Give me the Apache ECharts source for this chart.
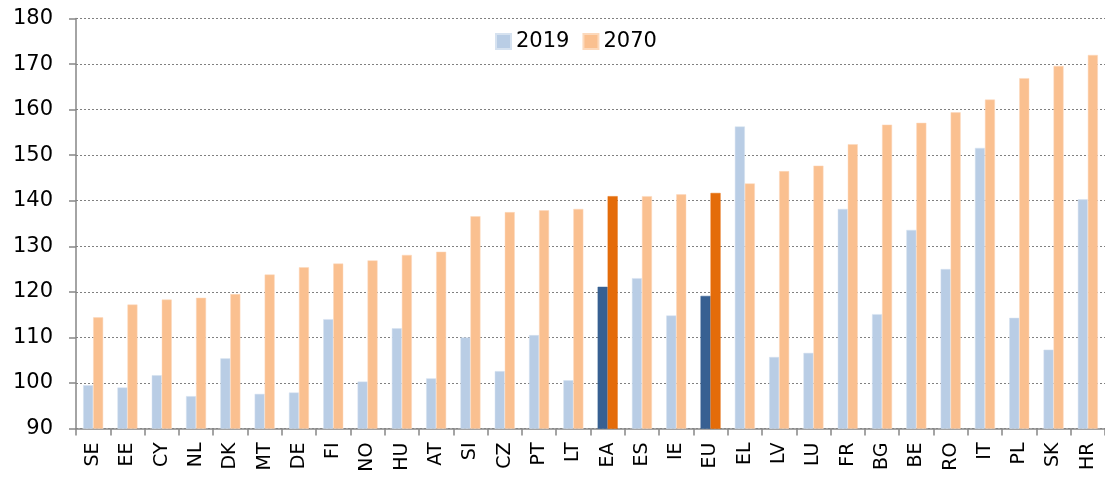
<!DOCTYPE html>
<html>
<head>
<meta charset="utf-8">
<script src="https://cdn.jsdelivr.net/npm/echarts@6/dist/echarts.min.js"></script>
<style>
  html, body { margin: 0; padding: 0; background: #fff; }
  #chart { width: 1105px; height: 479px; }
</style>
</head>
<body>
<div id="chart"></div>
<script>
const categories = ['SE', 'EE', 'CY', 'NL', 'DK', 'MT', 'DE', 'FI', 'NO', 'HU', 'AT', 'SI', 'CZ', 'PT', 'LT',
  'EA', 'ES', 'IE', 'EU', 'EL', 'LV', 'LU', 'FR', 'BG', 'BE', 'RO', 'IT', 'PL', 'SK', 'HR'];
const values2019 = [99.5, 99.0, 101.7, 97.1, 105.4, 97.6, 97.9, 114.0, 100.3, 112.0, 101.0, 110.0, 102.6, 110.5, 100.6,
  121.1, 123.0, 114.8, 119.1, 156.3, 105.7, 106.6, 138.2, 115.1, 133.6, 125.0, 151.6, 114.3, 107.3, 140.3];
const values2070 = [114.4, 117.2, 118.3, 118.7, 119.5, 123.8, 125.4, 126.2, 126.9, 128.1, 128.8, 136.6, 137.5, 137.9, 138.2,
  141.0, 141.0, 141.4, 141.7, 143.8, 146.5, 147.7, 152.4, 156.7, 157.1, 159.4, 162.2, 166.9, 169.6, 172.0];
const aggregates = ['EA', 'EU'];

const FONT = 'DejaVu Sans';

const myChart = echarts.init(document.getElementById('chart'), null, { renderer: 'canvas' });

// EA and EU get the darker colours
function buildData(values, darkColor) {
  return values.map((v, i) => {
    if (aggregates.indexOf(categories[i]) >= 0) {
      return { value: v, itemStyle: { color: darkColor, borderColor: darkColor } };
    }
    return v;
  });
}

const option = {
  animation: false,
  backgroundColor: '#fff',
  grid: { left: 76, right: 0, top: 18.5, bottom: 50.5 },
  legend: {
    left: 495,
    top: 31,
    padding: 0,
    itemWidth: 15,
    itemHeight: 15,
    itemGap: 13,
    icon: 'rect',
    textStyle: { fontFamily: FONT, fontSize: 21, color: '#000' },
    data: ['2019', '2070']
  },
  xAxis: {
    type: 'category',
    data: categories,
    axisLine: { lineStyle: { color: '#868686', width: 1.5 } },
    axisTick: { show: true, length: 7, lineStyle: { color: '#868686', width: 1.5 } },
    axisLabel: {
      rotate: 90,
      interval: 0,
      margin: 14,
      fontFamily: FONT,
      fontSize: 19,
      color: '#000'
    }
  },
  yAxis: {
    type: 'value',
    min: 90,
    max: 180,
    interval: 10,
    axisLine: { show: true, lineStyle: { color: '#868686', width: 1.5 } },
    axisTick: { show: true, length: 7, lineStyle: { color: '#868686', width: 1.5 } },
    axisLabel: { fontFamily: FONT, fontSize: 21, color: '#000', margin: 23 },
    splitLine: { lineStyle: { color: '#808080', type: [2, 2], width: 1 } }
  },
  series: [
    {
      name: '2019',
      type: 'bar',
      barWidth: 10,
      barGap: '0%',
      itemStyle: { color: '#B9CDE5', borderColor: '#D6E2F0', borderWidth: 0.5 },
      data: buildData(values2019, '#376092')
    },
    {
      name: '2070',
      type: 'bar',
      barWidth: 10,
      barGap: '0%',
      itemStyle: { color: '#FAC090', borderColor: '#FCD9BC', borderWidth: 0.5 },
      data: buildData(values2070, '#E46C0A')
    }
  ]
};

myChart.setOption(option);
</script>
</body>
</html>
